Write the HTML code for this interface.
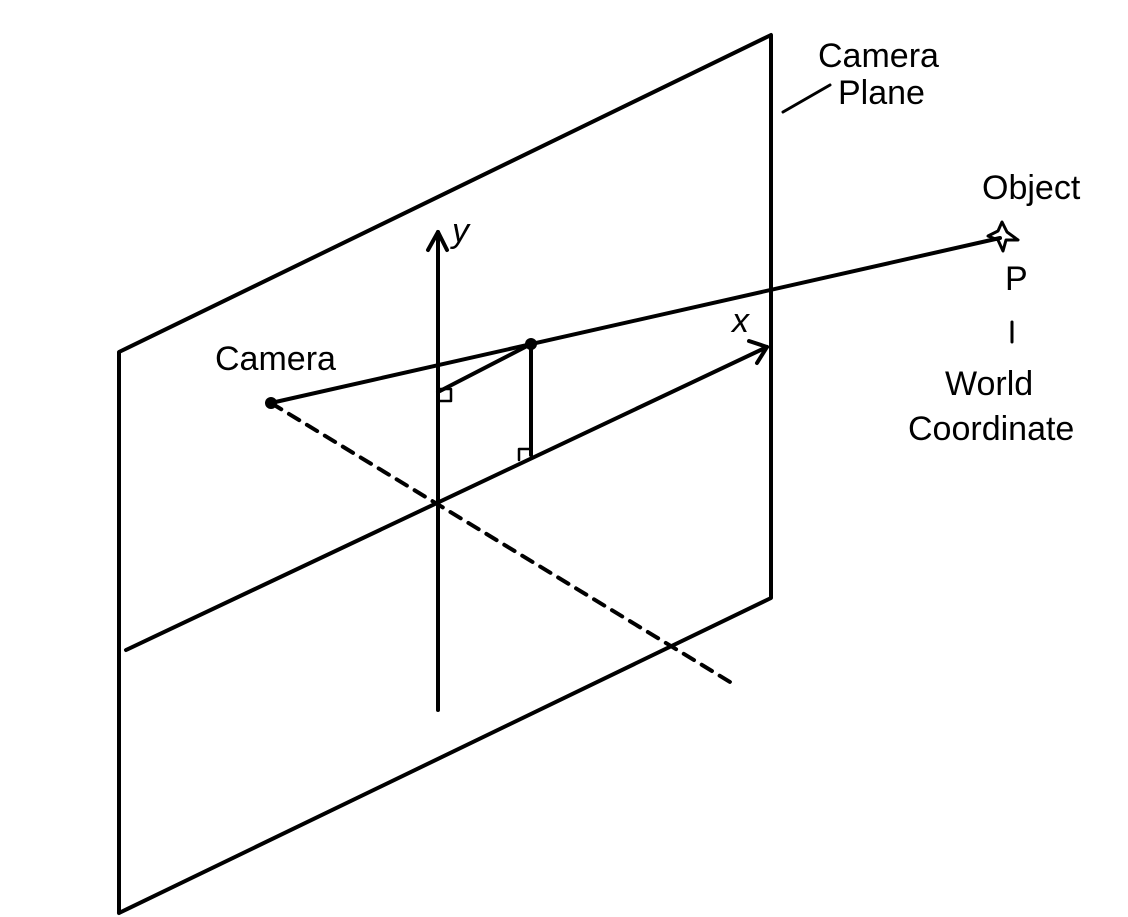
<!DOCTYPE html>
<html><head><style>body{margin:0;background:#fff}svg{display:block}</style></head>
<body>
<svg width="1128" height="917" viewBox="0 0 1128 917" xmlns="http://www.w3.org/2000/svg">
<g fill="none" stroke="#000" stroke-width="4" stroke-linecap="round" stroke-linejoin="round">
<polyline points="119,913 119,352 771,35 771,598 119,913"/>
<line x1="126" y1="650" x2="767" y2="347"/>
<polyline points="749,341 767,347 757,363"/>
<line x1="438" y1="710" x2="438" y2="232"/>
<polyline points="428,250 438,232 447,250"/>
<line x1="271" y1="403" x2="1000" y2="238"/>
<line x1="271" y1="403" x2="735" y2="685" stroke-dasharray="12,9"/>
<line x1="531" y1="344" x2="438" y2="392"/>
<line x1="531" y1="344" x2="531" y2="455"/>
<polyline points="438,389 451,389 451,401 438,401" stroke-width="2.5"/>
<polyline points="519,460 519,449 531,449" stroke-width="2.5"/>
<line x1="783" y1="112" x2="830" y2="85" stroke-width="3"/>
<polygon points="1002,222 1007,232 1018,240 1006,240 1003,251 998,240 988,236 998,231" stroke-width="3"/>
<line x1="1012" y1="322" x2="1012" y2="342" stroke-width="3"/>
</g>
<circle cx="271" cy="403" r="6"/>
<circle cx="531" cy="344" r="6"/>
<g font-family="Liberation Sans, sans-serif" font-size="34" fill="#000">
<text x="215" y="370">Camera</text>
<text x="818" y="67">Camera</text>
<text x="838" y="104">Plane</text>
<text x="982" y="199">Object</text>
<text x="1005" y="290">P</text>
<text x="945" y="395">World</text>
<text x="908" y="440">Coordinate</text>
<text x="452" y="242" font-style="italic">y</text>
<text x="732" y="332" font-style="italic">x</text>
</g>
</svg>
</body></html>
